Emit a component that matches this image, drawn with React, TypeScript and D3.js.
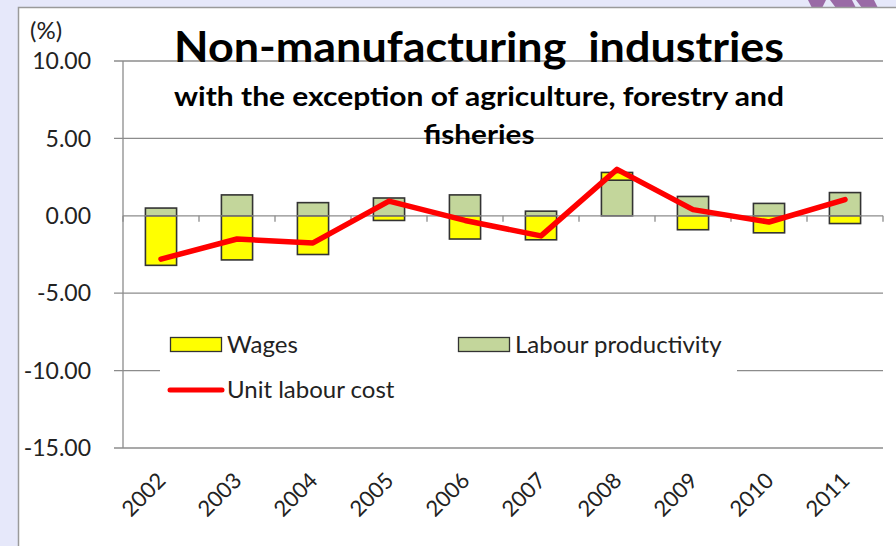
import React from "react";
import * as d3 from "d3";

const years = ["2002","2003","2004","2005","2006","2007","2008","2009","2010","2011"];
const wages = [-3.2, -2.85, -2.5, -0.3, -1.5, -1.55, 0.5, -0.9, -1.1, -0.5];
const productivity = [0.5, 1.35, 0.85, 1.15, 1.35, 0.3, 2.3, 1.25, 0.8, 1.5];
const unitLabourCost = [-2.8, -1.5, -1.75, 0.95, -0.3, -1.3, 3.0, 0.4, -0.4, 1.05];
const yTicks = [10, 5, 0, -5, -10, -15];

const W = 896, H = 546;
const FONT = "Lato, 'Open Sans', sans-serif";

export default function App() {
  const x = d3.scaleBand<string>().domain(years).range([123, 883]).paddingInner(0.59).paddingOuter(0.295);
  const y = d3.scaleLinear().domain([-15, 10]).range([448, 61]);
  const rows = years.map((yr, i) => ({ year: yr, productivity: productivity[i], wages: wages[i] }));
  const stack = d3.stack<any>().keys(["productivity", "wages"]).offset(d3.stackOffsetDiverging);
  const series = stack(rows);
  const colors: Record<string, string> = { wages: "#ffff00", productivity: "#c3d69b" };
  const step = x.step();
  const cx = (yr: string) => (x(yr) as number) + x.bandwidth() / 2;
  const line = d3.line<number>().x((_, i) => cx(years[i])).y(v => y(v));
  const boundaries = d3.range(years.length + 1).map(i => 123 + i * step);

  return (
    <svg width={W} height={H} style={{ position: "absolute", left: 0, top: 0 }} xmlns="http://www.w3.org/2000/svg">
      <rect x={0} y={0} width={W} height={H} fill="#e6e8fa" />
      <path d="M808,0 L812,8 L822,8 L826,0 Z M830,0 L836,8 L856,8 L852,0 Z M856,0 L862,8 L878,8 L874,0 Z" fill="#9a6aa6" />
      <rect x={18.5} y={7.5} width={W} height={H} fill="#ffffff" stroke="#9a9a9a" strokeWidth={1.5} />

      {/* gridlines */}
      {yTicks.filter(t => t !== 0).map(t => (
        <line key={t} x1={114} x2={883} y1={y(t)} y2={y(t)} stroke="#8c8c8c" strokeWidth={1.3} />
      ))}
      {/* y axis */}
      <line x1={123} x2={123} y1={61} y2={448} stroke="#8c8c8c" strokeWidth={1.3} />

      {/* y tick labels */}
      {yTicks.map(t => (
        <text key={t} x={91} y={y(t)} dy="0.36em" textAnchor="end" fontFamily={FONT} fontSize={23} fill="#222">
          {t.toFixed(2)}
        </text>
      ))}
      <text x={30} y={39} fontFamily={FONT} fontSize={24} fill="#222">(%)</text>

      {/* title */}
      <text x={479} y={62} textAnchor="middle" fontFamily={FONT} fontWeight="bold" fontSize={42} fill="#000" textLength={610} lengthAdjust="spacingAndGlyphs">{"Non-manufacturing\u00a0 industries"}</text>
      <text x={479} y={106} textAnchor="middle" fontFamily={FONT} fontWeight="bold" fontSize={27} fill="#000" textLength={610} lengthAdjust="spacingAndGlyphs">with the exception of agriculture, forestry and</text>
      <text x={479} y={144} textAnchor="middle" fontFamily={FONT} fontWeight="bold" fontSize={27} fill="#000" textLength={111} lengthAdjust="spacingAndGlyphs">fisheries</text>

      {/* legend box (white) */}
      <rect x={160} y={325} width={577} height={80} fill="#ffffff" />

      {/* bars */}
      {series.map(s => (
        <g key={s.key}>
          {s.map((d, i) => (
            <rect key={i} x={x(years[i])} width={x.bandwidth()}
              y={y(Math.max(d[0], d[1]))} height={Math.abs(y(d[0]) - y(d[1]))}
              fill={colors[s.key]} stroke="#333" strokeWidth={1.6} />
          ))}
        </g>
      ))}

      {/* category axis at zero */}
      <line x1={123} x2={883} y1={y(0)} y2={y(0)} stroke="#8c8c8c" strokeWidth={1.3} />
      {boundaries.map((bx, i) => (
        <line key={i} x1={bx} x2={bx} y1={y(0)} y2={y(0) + 6} stroke="#8c8c8c" strokeWidth={1.3} />
      ))}

      {/* line */}
      <path d={line(unitLabourCost) || ""} fill="none" stroke="#ff0000" strokeWidth={5.5} strokeLinejoin="round" strokeLinecap="round" />

      {/* x labels */}
      {years.map(yr => (
        <text key={yr} transform={`translate(${cx(yr) + 6},${482}) rotate(-45)`} textAnchor="end" fontFamily={FONT} fontSize={22} fill="#222">{yr}</text>
      ))}

      {/* legend */}
      <rect x={170.5} y={337.5} width={51} height={14} fill="#ffff00" stroke="#333" strokeWidth={1.3} />
      <text x={227} y={353} fontFamily={FONT} fontSize={24} fill="#222">Wages</text>
      <rect x={458.5} y={337.5} width={51} height={14} fill="#c3d69b" stroke="#333" strokeWidth={1.3} />
      <text x={515} y={353} fontFamily={FONT} fontSize={24} fill="#222">Labour productivity</text>
      <line x1={170} x2={222} y1={390} y2={390} stroke="#ff0000" strokeWidth={5} strokeLinecap="round" />
      <text x={227} y={398} fontFamily={FONT} fontSize={24} fill="#222">Unit labour cost</text>
    </svg>
  );
}
